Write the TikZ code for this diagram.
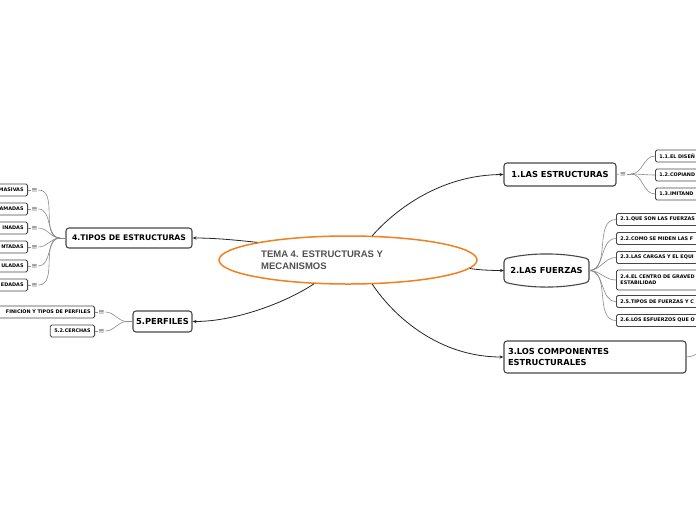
\documentclass[tikz,border=0pt]{standalone}
\usepackage{fontspec}
\setmainfont{DejaVu Sans}
\newfontfamily\titlefont{Liberation Sans}
\newfontfamily\symfont{DejaVu Sans}
\usetikzlibrary{shapes.geometric,arrows.meta}
\definecolor{boxgray}{HTML}{474747}
\definecolor{linegray}{HTML}{8A8A8A}
\definecolor{icongray}{HTML}{6A6A6A}
\definecolor{mainline}{HTML}{262626}
\definecolor{orangeline}{HTML}{F2801E}
\definecolor{titlegray}{HTML}{505050}
\begin{document}
\begin{tikzpicture}[x=1pt,y=-1pt,
  mainbox/.style={draw=boxgray, line width=1.1pt, rounded corners=3pt, fill=white,
    font=\bfseries\fontsize{8.3}{10.5}\selectfont, inner sep=0pt},
  subbox/.style={draw=boxgray, line width=0.9pt, rounded corners=1.5pt, fill=white,
    font=\bfseries\fontsize{4.9}{6}\selectfont, inner xsep=4pt, inner ysep=0pt, minimum height=12pt},
  rsub/.style={subbox, anchor=west, text width=90pt, align=left},
  lsub/.style={subbox, anchor=east, text width=150pt, align=right},
  iconmark/.style={font=\symfont\fontsize{7.5}{8}\selectfont, text=icongray, inner sep=0.5pt},
  mainconn/.style={draw=mainline, line width=0.8pt, -{Stealth[length=4pt,width=3.2pt]}},
  fan/.style={draw=linegray, line width=0.6pt},
  stub/.style={draw=linegray, line width=0.6pt}]
\useasboundingbox (0,0) rectangle (696,520);
\fill[white] (0,0) rectangle (696,520);
\clip (0,0) rectangle (696,520);

% central topic
\node[ellipse, draw=orangeline, line width=1.5pt, minimum width=258pt, minimum height=48pt, inner sep=0pt] (c) at (348,260) {};
\node[anchor=west, align=left, inner sep=0pt, text=titlegray, font=\titlefont\bfseries\fontsize{9.5}{12}\selectfont] (ct) at (261,260) {TEMA 4. ESTRUCTURAS Y\\MECANISMOS};

% main topics
\node[mainbox, minimum width=112pt, minimum height=23pt] (t1) at (560,174.5) {1.LAS ESTRUCTURAS};
\node[font=\bfseries\fontsize{8.3}{10.5}\selectfont, inner sep=0pt] (t2) at (546.5,270.5) {2.LAS FUERZAS};
\draw[boxgray, line width=1.1pt, rounded corners=3pt]
  (504,259) .. controls (530,252.5) and (563,252.5) .. (589,259) -- (589,282)
  .. controls (563,288.5) and (530,288.5) .. (504,282) -- cycle;
\coordinate (t2w) at (504,270.5);
\coordinate (t2e) at (589,270.5);
\node[mainbox, minimum width=182pt, minimum height=32pt, text width=174pt, align=left] (t3) at (595,357) {3.LOS COMPONENTES\\ESTRUCTURALES};
\node[mainbox, minimum width=126pt, minimum height=20pt, font=\bfseries\fontsize{7.7}{10}\selectfont] (t4) at (129,238) {4.TIPOS DE ESTRUCTURAS};
\node[mainbox, minimum width=59pt, minimum height=21pt] (t5) at (162.5,321.5) {5.PERFILES};

% main connectors
\draw[mainconn] (c.45) .. controls (395,210) and (440,175) .. (t1.west);
\draw[mainconn] (c.-4) .. controls (480,270) and (490,270.5) .. (t2w);
\draw[mainconn] (c.-45) .. controls (395,318) and (440,357) .. (t3.west);
\draw[mainconn] (c.169.4) .. controls (235,240) and (215,238) .. (t4.east);
\draw[mainconn] (c.-145) .. controls (285,303) and (235,321.5) .. (t5.east);

% subtopics of 1
\node[iconmark] (i1) at (623,174) {≡};
\draw[stub] (t1.east) -- (i1.west);
\coordinate (j1) at (631,174);
\draw[stub] (i1.east) -- (j1);
\node[rsub] (s11) at (655,156) {1.1.EL DISEÑ};
\node[rsub] (s12) at (655,175) {1.2.COPIAND};
\node[rsub] (s13) at (655,194) {1.3.IMITAND};
\foreach \s in {s11,s12,s13} \draw[fan] (j1) to[out=0,in=180] (\s.west);

% subtopics of 2
\node[rsub] (s21) at (616,219.5) {2.1.QUE SON LAS FUERZAS};
\node[rsub] (s22) at (616,238.5) {2.2.COMO SE MIDEN LAS F};
\node[rsub] (s23) at (616,257.5) {2.3.LAS CARGAS Y EL EQUI};
\node[rsub, minimum height=20pt] (s24) at (616,280) {2.4.EL CENTRO DE GRAVED\\ESTABILIDAD};
\node[rsub] (s25) at (616,301.5) {2.5.TIPOS DE FUERZAS Y C};
\node[rsub] (s26) at (616,320.5) {2.6.LOS ESFUERZOS QUE O};
\foreach \s in {s21,s22,s23,s24,s25,s26} \draw[fan] (t2e) to[out=0,in=180] (\s.west);

% child of 3 (off canvas)
\coordinate (s31) at (705,352);
\draw[fan] (t3.east) to[out=0,in=180] (s31);

% subtopics of 4
\coordinate (j4) at (60,238);
\draw[stub] (j4) -- (t4.west);
\foreach \n/\y/\t in {1/190/MASIVAS, 2/209/AMADAS, 3/228/INADAS, 4/247/NTADAS, 5/266/ULADAS, 6/285/EDADAS}{
  \node[lsub] (s4\n) at (28,\y) {\t};
  \node[iconmark] (i4\n) at (34.5,\y) {≡};
  \draw[stub] (s4\n.east) -- (i4\n.west);
  \draw[fan] (i4\n.east) to[out=0,in=180] (j4);
}

% subtopics of 5
\coordinate (j5) at (127,321.5);
\draw[stub] (j5) -- (t5.west);
\node[lsub] (s51) at (95,312) {FINICION Y TIPOS DE PERFILES};
\node[subbox, anchor=east] (s52) at (95,331) {5.2.CERCHAS};
\node[iconmark] (i51) at (101.5,312) {≡};
\node[iconmark] (i52) at (101.5,331) {≡};
\draw[stub] (s51.east) -- (i51.west);
\draw[stub] (s52.east) -- (i52.west);
\draw[fan] (i51.east) to[out=0,in=180] (j5);
\draw[fan] (i52.east) to[out=0,in=180] (j5);
\end{tikzpicture}
\end{document}
